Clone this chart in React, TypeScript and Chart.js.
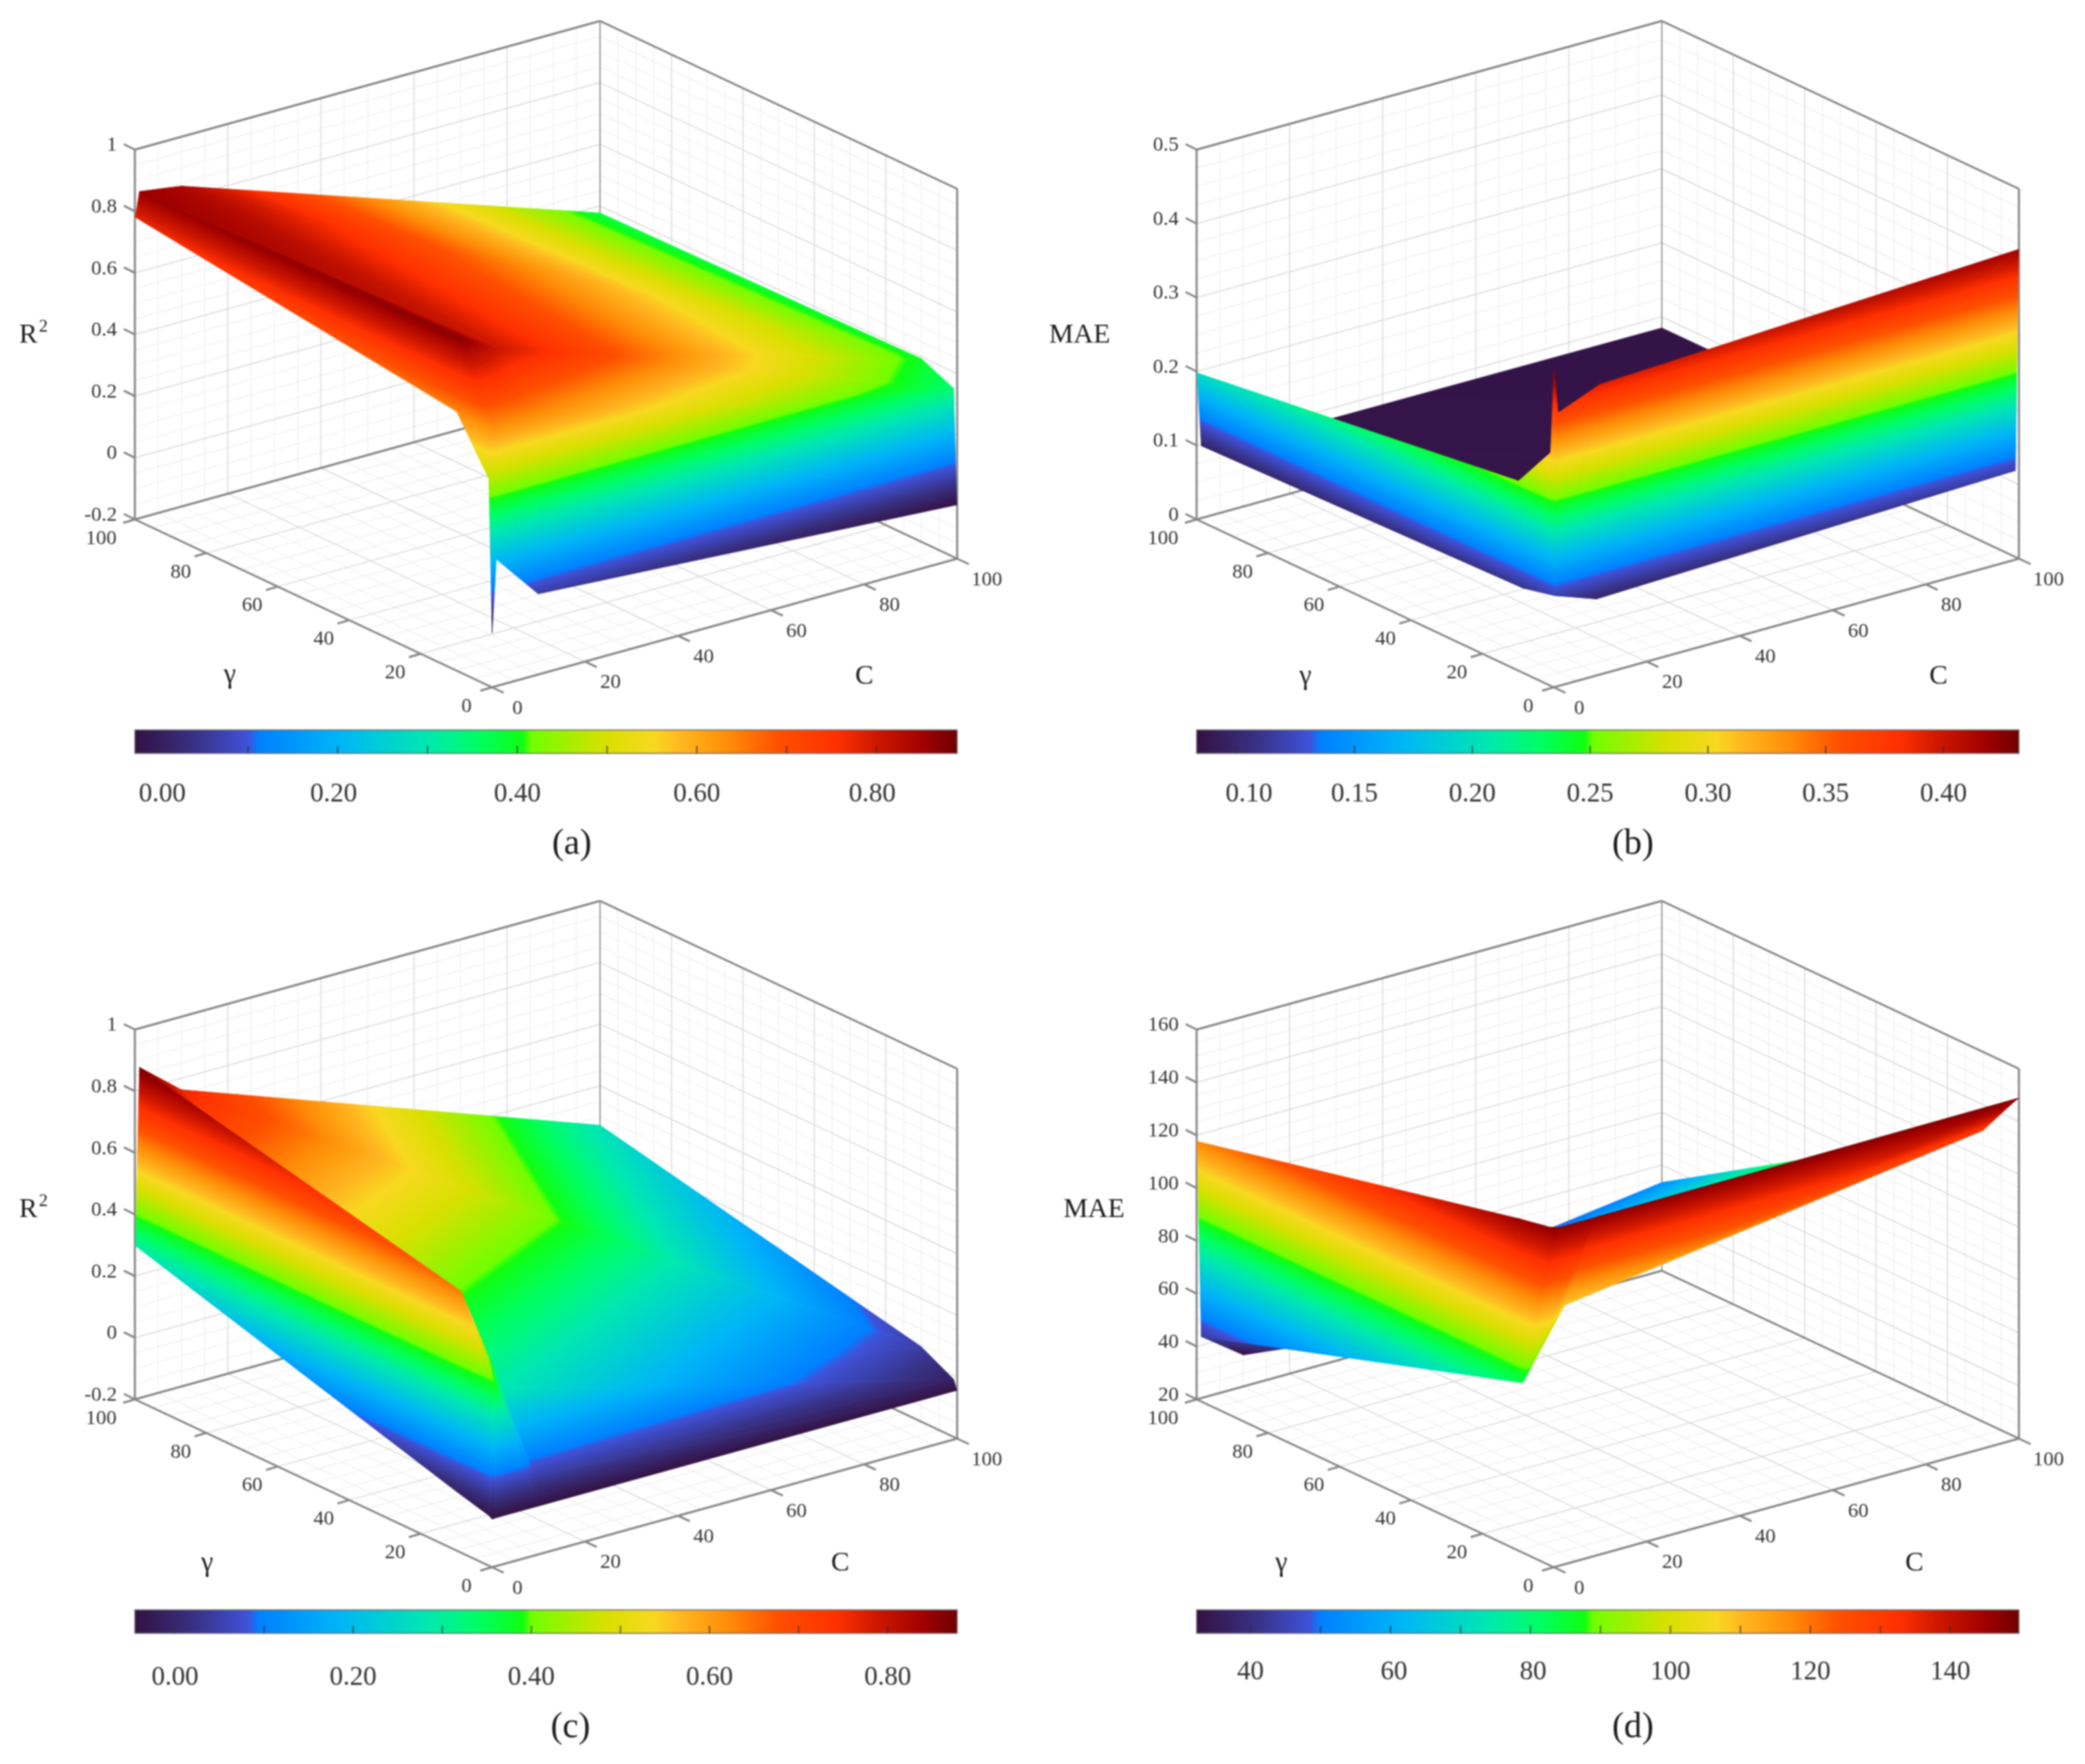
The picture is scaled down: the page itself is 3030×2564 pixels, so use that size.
import React, { useEffect, useRef } from "react";
import { Chart, registerables } from "chart.js";

Chart.register(...registerables);

// ---------- data ----------
const C_VALUES = [0.1, 1, 10, 100];
const GAMMA_VALUES = [0.1, 1, 10, 100];

// rows: gamma = 0.1, 1, 10, 100; columns: C = 0.1, 1, 10, 100
const SURFACE_A = [
  [-0.024, 0.211, 0.061, -0.026],
  [0.47, 0.63, 0.63, 0.347],
  [0.64, 0.875, 0.8, 0.394],
  [0.78, 0.86, 0.84, 0.377],
];
const SURFACE_B = [
  [0.431, 0.369, 0.392, 0.418],
  [0.315, 0.12, 0.1, 0.117],
  [0.256, 0.11, 0.086, 0.086],
  [0.198, 0.098, 0.086, 0.085],
];
const SURFACE_C = [
  [-0.045, -0.044, -0.044, -0.044],
  [-0.038, 0.4, 0.05, -0.013],
  [-0.01, 0.637, 0.28, 0.043],
  [0.298, 0.873, 0.763, 0.272],
];
const SURFACE_D = [
  [148.5, 148, 148, 148.8],
  [148, 146, 147, 147.3],
  [145.6, 83, 108, 130.4],
  [117.6, 43.3, 32, 53.4],
];

const AXIS_TICKS = [0, 20, 40, 60, 80, 100];
const Z_TICKS_R2 = [-0.2, 0, 0.2, 0.4, 0.6, 0.8, 1];
const Z_LABELS_R2 = ["-0.2", "0", "0.2", "0.4", "0.6", "0.8", "1"];
const Z_TICKS_B = [0, 0.1, 0.2, 0.3, 0.4, 0.5];
const Z_LABELS_B = ["0", "0.1", "0.2", "0.3", "0.4", "0.5"];
const Z_TICKS_D = [20, 40, 60, 80, 100, 120, 140, 160];

const CBAR_TICKS_R2 = [0, 0.1, 0.2, 0.3, 0.4, 0.5, 0.6, 0.7, 0.8];
const CBAR_LABELS_R2 = [0, 0.2, 0.4, 0.6, 0.8];
const CBAR_TICKS_B = [0.1, 0.15, 0.2, 0.25, 0.3, 0.35, 0.4];
const CBAR_TICKS_D = [40, 50, 60, 70, 80, 90, 100, 110, 120, 130, 140];
const CBAR_LABELS_D = [40, 60, 80, 100, 120, 140];

// colour map
const CMAP_POS = [0, 0.07, 0.1375, 0.151, 0.246, 0.356, 0.42, 0.472, 0.482, 0.523, 0.572, 0.632, 0.662, 0.722, 0.781, 0.854, 0.9, 0.96, 1];
const CMAP_RGB = [
  [52, 17, 66], [56, 48, 130], [63, 82, 216], [0, 128, 255], [0, 180, 248], [0, 232, 176], [0, 255, 96],
  [16, 255, 16], [112, 255, 0], [160, 240, 0], [216, 224, 0], [248, 216, 32], [255, 184, 32], [255, 140, 8],
  [255, 80, 0], [255, 48, 0], [208, 24, 0], [160, 0, 0], [112, 0, 0],
];

// ---------- layout ----------
const FONT = "'Liberation Serif', 'Times New Roman', serif";
const BOX_H = 537.5;
const CX = 6.76, CY = -1.87, GX = -5.19, GY = -2.44;

type Panel = {
  left: number; top: number; w: number; h: number;
  ox: number; oy: number;
  zMin: number; zMax: number; zTicks: number[]; zLabels: string[];
  surface: number[][];
  cLo: number; cHi: number; cbTicks: number[]; cbLabels: number[]; cbDigits: number; cbShift: number[]; cbLabelY: number;
  yTitle: string; sup: string; yTitleX: number; yTitleY: number;
  gammaPos: number[]; cPos: number[]; cap: string; capPos: number[];
};

const PANELS: Panel[] = [
  {
    left: 0, top: 0, w: 1515, h: 1282, ox: 715, oy: 999,
    zMin: -0.2, zMax: 1, zTicks: Z_TICKS_R2, zLabels: Z_LABELS_R2, surface: SURFACE_A,
    cLo: -0.026, cHi: 0.89, cbTicks: CBAR_TICKS_R2, cbLabels: CBAR_LABELS_R2, cbDigits: 2, cbShift: [6, -6, 0, 0, -6], cbLabelY: 1155,
    yTitle: "R", sup: "2", yTitleX: 41, yTitleY: 487, gammaPos: [334, 981], cPos: [1256, 983], cap: "(a)", capPos: [831, 1227],
  },
  {
    left: 1515, top: 0, w: 1515, h: 1282, ox: 2258, oy: 999,
    zMin: 0, zMax: 0.5, zTicks: Z_TICKS_B, zLabels: Z_LABELS_B, surface: SURFACE_B,
    cLo: 0.083, cHi: 0.432, cbTicks: CBAR_TICKS_B, cbLabels: CBAR_TICKS_B, cbDigits: 2, cbShift: [18, 0, 0, 0, 0, 0, 0], cbLabelY: 1155,
    yTitle: "MAE", sup: "", yTitleX: 1569, yTitleY: 487, gammaPos: [1897, 983], cPos: [2817, 983], cap: "(b)", capPos: [2373, 1227],
  },
  {
    left: 0, top: 1282, w: 1515, h: 1282, ox: 715, oy: 2278,
    zMin: -0.2, zMax: 1, zTicks: Z_TICKS_R2, zLabels: Z_LABELS_R2, surface: SURFACE_C,
    cLo: -0.045, cHi: 0.878, cbTicks: CBAR_TICKS_R2, cbLabels: CBAR_LABELS_R2, cbDigits: 2, cbShift: [0, 0, 0, 0, 0], cbLabelY: 2439,
    yTitle: "R", sup: "2", yTitleX: 41, yTitleY: 1758, gammaPos: [301, 2272], cPos: [1221, 2272], cap: "(c)", capPos: [829, 2511],
  },
  {
    left: 1515, top: 1282, w: 1515, h: 1282, ox: 2258, oy: 2278,
    zMin: 20, zMax: 160, zTicks: Z_TICKS_D, zLabels: Z_TICKS_D.map(String), surface: SURFACE_D,
    cLo: 32.3, cHi: 149.8, cbTicks: CBAR_TICKS_D, cbLabels: CBAR_LABELS_D, cbDigits: 0, cbShift: [0, 5, 4, 0, 0, 0], cbLabelY: 2431,
    yTitle: "MAE", sup: "", yTitleX: 1590, yTitleY: 1758, gammaPos: [1862, 2272], cPos: [2782, 2272], cap: "(d)", capPos: [2373, 2511],
  },
];

function cmap(t: number): string {
  const v = Math.max(0, Math.min(1, t));
  let i = 0;
  while (i < CMAP_POS.length - 2 && v > CMAP_POS[i + 1]) i++;
  const f = (v - CMAP_POS[i]) / (CMAP_POS[i + 1] - CMAP_POS[i]);
  const a = CMAP_RGB[i], b = CMAP_RGB[i + 1];
  return `rgb(${a.map((c, k) => Math.round(c + (b[k] - c) * f)).join(",")})`;
}

function addStops(g: CanvasGradient) {
  CMAP_POS.forEach((p, i) => g.addColorStop(p, `rgb(${CMAP_RGB[i].join(",")})`));
}

function project(p: Panel, c: number, g: number, z: number) {
  return {
    x: p.ox + CX * c + GX * g,
    y: p.oy + CY * c + GY * g - ((z - p.zMin) / (p.zMax - p.zMin)) * BOX_H,
  };
}

function makePlugin(p: Panel) {
  return {
    id: "surface3d",
    afterDatasetsDraw(chart: any) {
      const ctx: CanvasRenderingContext2D = chart.ctx;
      const sx = chart.scales.x, sy = chart.scales.y;
      const px = (pt: { x: number; y: number }) => ({ x: sx.getPixelForValue(pt.x), y: sy.getPixelForValue(pt.y) });
      const P = (c: number, g: number, z: number) => px(project(p, c, g, z));
      const line = (a: any, b: any, color: string, w: number) => {
        ctx.strokeStyle = color; ctx.lineWidth = w;
        ctx.beginPath(); ctx.moveTo(a.x, a.y); ctx.lineTo(b.x, b.y); ctx.stroke();
      };
      const text = (s: string, x: number, y: number, size: number, color: string, align: CanvasTextAlign = "center") => {
        ctx.font = `${size}px ${FONT}`; ctx.fillStyle = color; ctx.textAlign = align; ctx.textBaseline = "middle";
        const q = px({ x, y });
        ctx.fillText(s, q.x, q.y);
      };
      ctx.save();
      ctx.lineCap = "butt";

      // --- walls and floor
      const zStep = (p.zTicks[1] - p.zTicks[0]) / 4;
      const nz = Math.round((p.zMax - p.zMin) / zStep);
      for (let pass = 0; pass < 2; pass++) {
        const col = pass === 0 ? "#efefef" : "#d9d9d9";
        const lw = pass === 0 ? 1.2 : 1.5;
        for (let k = 0; k <= 20; k++) {
          if ((k % 4 === 0) !== (pass === 1)) continue;
          const v = k * 5;
          line(P(v, 100, p.zMin), P(v, 100, p.zMax), col, lw);
          line(P(100, v, p.zMin), P(100, v, p.zMax), col, lw);
          line(P(v, 0, p.zMin), P(v, 100, p.zMin), col, lw);
          line(P(0, v, p.zMin), P(100, v, p.zMin), col, lw);
        }
        for (let k = 0; k <= nz; k++) {
          if ((k % 4 === 0) !== (pass === 1)) continue;
          const z = p.zMin + k * zStep;
          line(P(0, 100, z), P(100, 100, z), col, lw);
          line(P(100, 100, z), P(100, 0, z), col, lw);
        }
      }

      // --- box
      const axis = "#858585";
      line(P(100, 100, p.zMin), P(100, 100, p.zMax), "#9a9a9a", 2);
      line(P(0, 100, p.zMin), P(100, 100, p.zMin), axis, 3);
      line(P(100, 100, p.zMin), P(100, 0, p.zMin), axis, 3);
      line(P(0, 100, p.zMax), P(100, 100, p.zMax), axis, 3);
      line(P(100, 100, p.zMax), P(100, 0, p.zMax), axis, 3);
      line(P(0, 100, p.zMin), P(0, 100, p.zMax), axis, 3);
      line(P(100, 0, p.zMin), P(100, 0, p.zMax), axis, 3);
      line(P(0, 0, p.zMin), P(0, 100, p.zMin), axis, 3);
      line(P(0, 0, p.zMin), P(100, 0, p.zMin), axis, 3);

      // --- axis ticks and labels
      const tl = "#333";
      p.zTicks.forEach((z, i) => {
        const a = P(0, 100, z);
        line(a, { x: a.x - 16, y: a.y - 8 }, axis, 3);
        const q = project(p, 0, 100, z);
        text(p.zLabels[i], q.x - 26, q.y - 6, 30, tl, "right");
      });
      AXIS_TICKS.forEach((v) => {
        const a = P(0, v, p.zMin);
        line(a, { x: a.x - 17, y: a.y + 5 }, axis, 3);
        const q = project(p, 0, v, p.zMin);
        text(String(v), q.x - 37 - (v === 100 ? 12 : 0), q.y + 28, 30, tl);
        const b = P(v, 0, p.zMin);
        line(b, { x: b.x + 17, y: b.y + 8 }, axis, 3);
        const r = project(p, v, 0, p.zMin);
        text(String(v), r.x + 37 + (v === 100 ? 6 : 0), r.y + 31, 30, tl);
      });

      // --- surface: back to front, each cell cut along its anti-diagonal
      const vertex = (i: number, j: number) => {
        const z = p.surface[j][i];
        const q = P(C_VALUES[i], GAMMA_VALUES[j], z);
        return { x: q.x, y: q.y, t: (z - p.cLo) / (p.cHi - p.cLo) };
      };
      const tri = (a: any, b: any, c: any) => {
        const d1x = b.x - a.x, d1y = b.y - a.y, d2x = c.x - a.x, d2y = c.y - a.y;
        const dv1 = b.t - a.t, dv2 = c.t - a.t;
        const det = d1x * d2y - d1y * d2x;
        if (Math.abs(det) < 1e-6) return;
        const gx = (dv1 * d2y - dv2 * d1y) / det;
        const gy = (dv2 * d1x - dv1 * d2x) / det;
        const g2 = gx * gx + gy * gy;
        let style: any;
        if (g2 < 1e-12) {
          style = cmap(a.t);
        } else {
          const s0 = (0 - a.t) / g2, s1 = (1 - a.t) / g2;
          const lg = ctx.createLinearGradient(a.x + gx * s0, a.y + gy * s0, a.x + gx * s1, a.y + gy * s1);
          addStops(lg);
          style = lg;
        }
        ctx.fillStyle = style; ctx.strokeStyle = style; ctx.lineWidth = 0.8; ctx.lineJoin = "round";
        ctx.beginPath(); ctx.moveTo(a.x, a.y); ctx.lineTo(b.x, b.y); ctx.lineTo(c.x, c.y); ctx.closePath();
        ctx.fill(); ctx.stroke();
      };
      for (let i = C_VALUES.length - 2; i >= 0; i--) {
        for (let j = GAMMA_VALUES.length - 2; j >= 0; j--) {
          tri(vertex(i, j + 1), vertex(i + 1, j + 1), vertex(i + 1, j));
          tri(vertex(i, j), vertex(i + 1, j), vertex(i, j + 1));
        }
      }

      // --- colour bar
      const bx0 = p.ox + GX * 100, bx1 = p.ox + CX * 100;
      const byTop = p.top ? 2340 : 1061, byBot = byTop + 34;
      const barX = (v: number) => bx0 + ((v - p.cLo) / (p.cHi - p.cLo)) * (bx1 - bx0);
      const l = sx.getPixelForValue(bx0), r = sx.getPixelForValue(bx1), t = sy.getPixelForValue(byTop), b = sy.getPixelForValue(byBot);
      const bg = ctx.createLinearGradient(l, 0, r, 0);
      addStops(bg);
      ctx.fillStyle = bg;
      ctx.fillRect(l, t, r - l, b - t);
      ctx.strokeStyle = "rgba(110,110,110,0.75)"; ctx.lineWidth = 2;
      ctx.strokeRect(l, t, r - l, b - t);
      p.cbTicks.forEach((v) => {
        const x = sx.getPixelForValue(barX(v));
        line({ x, y: b }, { x, y: b - 11 }, "rgba(50,50,50,0.7)", 2);
      });
      p.cbLabels.forEach((v, i) => {
        text(v.toFixed(p.cbDigits), barX(v) + (p.cbShift[i] || 0), p.cbLabelY, 39, "#333");
      });

      // --- titles
      text(p.yTitle, p.yTitleX, p.yTitleY, 40, "#1c1c1c");
      if (p.sup) text(p.sup, p.yTitleX + 22, p.yTitleY - 12, 26, "#1c1c1c");
      text("γ", p.gammaPos[0], p.gammaPos[1], 40, "#1c1c1c");
      text("C", p.cPos[0], p.cPos[1], 40, "#1c1c1c");
      text(p.cap, p.capPos[0], p.capPos[1], 52, "#1c1c1c");
      ctx.restore();
    },
  };
}

function PanelChart({ panel }: { panel: Panel }) {
  const ref = useRef<HTMLCanvasElement | null>(null);
  useEffect(() => {
    if (!ref.current) return;
    const vertices: { x: number; y: number }[] = [];
    panel.surface.forEach((row, j) =>
      row.forEach((z, i) => vertices.push(project(panel, C_VALUES[i], GAMMA_VALUES[j], z)))
    );
    const chart = new Chart(ref.current, {
      type: "scatter",
      data: { datasets: [{ label: panel.cap, data: vertices, pointRadius: 0, showLine: false }] },
      options: {
        animation: false,
        responsive: false,
        events: [],
        layout: { padding: 0 },
        plugins: { legend: { display: false }, tooltip: { enabled: false }, title: { display: false } },
        scales: {
          x: { type: "linear", display: false, min: panel.left, max: panel.left + panel.w },
          y: { type: "linear", display: false, reverse: true, min: panel.top, max: panel.top + panel.h },
        },
      },
      plugins: [makePlugin(panel)],
    } as any);
    return () => chart.destroy();
  }, [panel]);
  return (
    <div style={{ position: "absolute", left: panel.left, top: panel.top, width: panel.w, height: panel.h }}>
      <canvas ref={ref} width={panel.w} height={panel.h} style={{ display: "block", filter: "blur(1px)" }} />
    </div>
  );
}

export default function App() {
  return (
    <div style={{ position: "absolute", left: 0, top: 0, width: 3030, height: 2564, background: "#fff", overflow: "hidden" }}>
      {PANELS.map((p) => (
        <PanelChart key={p.cap} panel={p} />
      ))}
    </div>
  );
}
